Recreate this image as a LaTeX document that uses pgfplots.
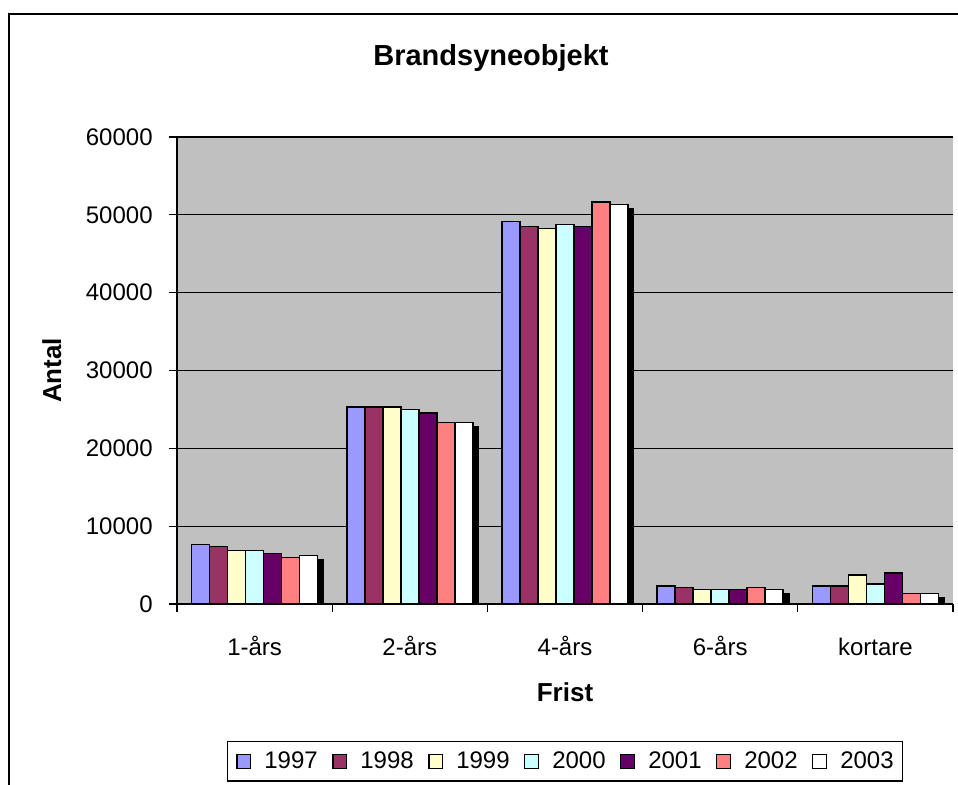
\documentclass[border=0pt]{standalone}
\usepackage{pgfplots}
\pgfplotsset{compat=1.18}
\usepackage{fontspec}
\setmainfont{Liberation Sans}
\usetikzlibrary{shadows}
\definecolor{c97}{HTML}{9999FF}
\definecolor{c98}{HTML}{993366}
\definecolor{c99}{HTML}{FFFFCC}
\definecolor{c00}{HTML}{CCFFFF}
\definecolor{c01}{HTML}{660066}
\definecolor{c02}{HTML}{FF8080}
\definecolor{c03}{HTML}{FFFFFF}
\definecolor{plotbg}{HTML}{C0C0C0}
\begin{document}
\begin{tikzpicture}
\useasboundingbox (0,0) rectangle (479pt,392.5pt);
\clip (0,0) rectangle (479pt,392.5pt);
\draw[line width=1pt] (4.5pt,-10pt) -- (4.5pt,385.5pt) -- (520pt,385.5pt);
\node[anchor=base,font=\fontsize{14.5}{17}\selectfont\bfseries] at (245.5pt,359.5pt) {Brandsyneobjekt};
\begin{axis}[
  at={(88.5pt,90.5pt)}, anchor=south west,
  scale only axis, width=388pt, height=233.5pt,
  xmin=-0.5, xmax=4.5, ymin=0, ymax=60000,
  axis background/.style={fill=plotbg},
  axis lines = left,
  axis line style={line width=0.6pt, black, -},
  ytick={0,10000,...,60000},
  scaled y ticks=false,
  yticklabel style={/pgf/number format/1000 sep={}, xshift=-4.4pt},
  /pgf/number format/assume math mode=true,
  xtick={0,1,2,3,4},
  xticklabels={1-års,2-års,4-års,6-års,kortare},
  major x tick style={draw=none},
  xticklabel style={text height=9pt, text depth=0pt, yshift=-9pt},
  extra x ticks={-0.5,0.5,1.5,2.5,3.5,4.5},
  extra x tick labels={},
  extra x tick style={grid=none, major x tick style={draw=black, line width=0.6pt}},
  tick align=outside, major tick length=4.25pt,
  tick style={black, line width=0.6pt},
  ymajorgrids, major grid style={black, line width=0.6pt},
  ticklabel style={font=\fontsize{12}{14}\selectfont},
  xlabel={Frist}, ylabel={Antal},
  label style={font=\fontsize{13}{15}\selectfont\bfseries},
  xlabel style={at={(axis description cs:0.5,-0.1895)}, anchor=center},
  ylabel style={at={(axis description cs:-0.1613,0.5)}, anchor=center},
  ybar=0pt, bar width=9pt,
  bsty/.style={draw=black, line width=0.75pt},
  shsty/.style={drop shadow={shadow xshift=2.8pt, shadow yshift=-2.2pt, opacity=1, fill=black}},
  legend columns=7,
  legend style={at={(axis description cs:0.5,-0.2927)}, anchor=north, draw=black, line width=0.6pt, fill=white,
    font=\fontsize{12}{14}\selectfont, inner xsep=4.5pt, inner ysep=5pt,
    nodes={inner sep=0pt, anchor=base west},
    /tikz/every odd column/.style={column sep=6.5pt},
    /tikz/every even column/.style={column sep=7.3pt}},
  legend image code/.code={\draw[#1, line width=0.6pt] (0pt,-0.2pt) rectangle (6.9pt,6.7pt);},
]
\addlegendimage{fill=c97, draw=black}\addlegendentry{1997}
\addlegendimage{fill=c98, draw=black}\addlegendentry{1998}
\addlegendimage{fill=c99, draw=black}\addlegendentry{1999}
\addlegendimage{fill=c00, draw=black}\addlegendentry{2000}
\addlegendimage{fill=c01, draw=black}\addlegendentry{2001}
\addlegendimage{fill=c02, draw=black}\addlegendentry{2002}
\addlegendimage{fill=c03, draw=black}\addlegendentry{2003}
\addplot[bsty, fill=c97, bar shift=-27pt, forget plot] coordinates {(0,7670) (1,25280) (2,49170) (3,2310) (4,2310)};
\addplot[bsty, fill=c98, bar shift=-18pt, forget plot] coordinates {(0,7370) (1,25280) (2,48470) (3,2090) (4,2310)};
\addplot[bsty, fill=c99, bar shift=-9pt, forget plot] coordinates {(0,6900) (1,25280) (2,48220) (3,1840) (4,3720)};
\addplot[bsty, fill=c00, bar shift=0pt, forget plot] coordinates {(0,6900) (1,24980) (2,48730) (3,1840) (4,2570)};
\addplot[bsty, fill=c01, bar shift=9pt, forget plot] coordinates {(0,6470) (1,24550) (2,48470) (3,1840) (4,3980)};
\addplot[bsty, fill=c02, bar shift=18pt, forget plot] coordinates {(0,6000) (1,23350) (2,51680) (3,2090) (4,1360)};
\addplot[bsty, shsty, fill=c03, bar shift=27pt, forget plot] coordinates {(0,6210) (1,23350) (2,51300) (3,1840) (4,1360)};
\end{axis}
\end{tikzpicture}
\end{document}
